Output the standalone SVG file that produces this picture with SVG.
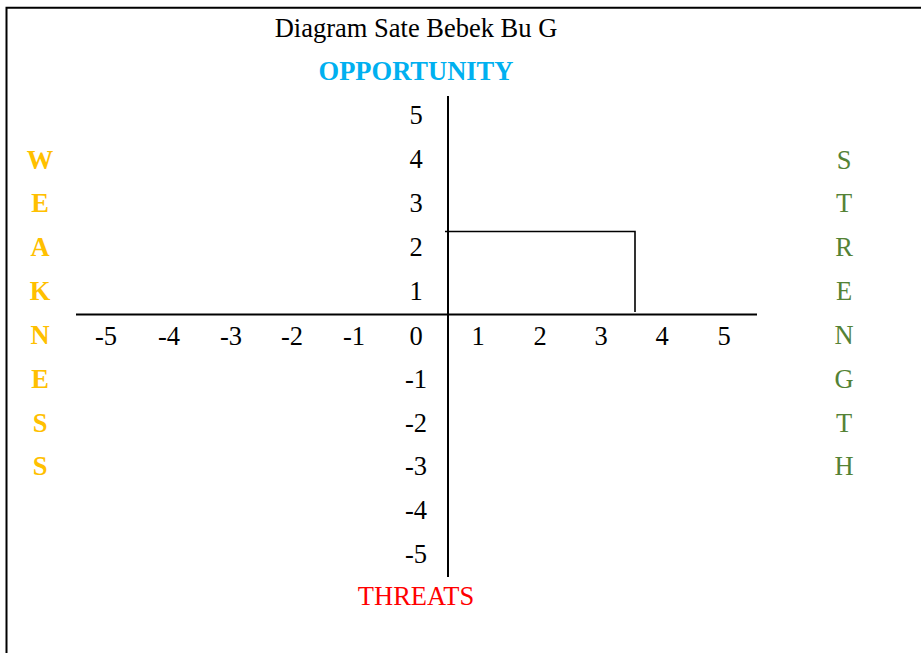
<svg xmlns="http://www.w3.org/2000/svg" width="921" height="653" viewBox="0 0 921 653">
<style>
text{font-family:"Liberation Serif","Times New Roman",Times,serif;font-size:26.5px;text-anchor:middle}
.num{fill:#000}
.w{fill:#FFC000;font-weight:bold}
.s{fill:#548235}
.axis{stroke:#000;stroke-width:2;fill:none}
.box{stroke:#000;stroke-width:1.6;fill:none}
</style>
<rect width="921" height="653" fill="#fff"/>
<g id="frame"><path d="M6.5,653 V7.7 H921" class="axis"/></g>
<g id="title"><text x="416" y="37">Diagram Sate Bebek Bu G</text></g>
<g id="opportunity"><text x="416" y="80" style="fill:#00B0F0;font-weight:bold">OPPORTUNITY</text></g>
<g id="threats"><text x="416" y="605" style="fill:#FF0000">THREATS</text></g>
<g id="connectors">
<line x1="448" y1="96" x2="448" y2="577" class="axis"/>
<line x1="76" y1="314.5" x2="757" y2="314.5" class="axis"/>
<path d="M445,231.5 H635 V312" class="box"/>
</g>
<g id="y-labels" class="num">
<text x="416" y="124">5</text>
<text x="416" y="168">4</text>
<text x="416" y="212">3</text>
<text x="416" y="256">2</text>
<text x="416" y="300">1</text>
<text x="416" y="388">-1</text>
<text x="416" y="432">-2</text>
<text x="416" y="475">-3</text>
<text x="416" y="519">-4</text>
<text x="416" y="563">-5</text>
</g>
<g id="x-labels" class="num">
<text x="106" y="345">-5</text>
<text x="169" y="345">-4</text>
<text x="231" y="345">-3</text>
<text x="292" y="345">-2</text>
<text x="354" y="345">-1</text>
<text x="416" y="345">0</text>
<text x="478" y="345">1</text>
<text x="540" y="345">2</text>
<text x="601" y="345">3</text>
<text x="662" y="345">4</text>
<text x="724" y="345">5</text>
</g>
<g id="weakness" class="w">
<text x="40" y="169">W</text>
<text x="40" y="212">E</text>
<text x="40" y="256">A</text>
<text x="40" y="300">K</text>
<text x="40" y="344">N</text>
<text x="40" y="388">E</text>
<text x="40" y="432">S</text>
<text x="40" y="475">S</text>
</g>
<g id="strength" class="s">
<text x="844" y="169">S</text>
<text x="844" y="212">T</text>
<text x="844" y="256">R</text>
<text x="844" y="300">E</text>
<text x="844" y="344">N</text>
<text x="844" y="388">G</text>
<text x="844" y="432">T</text>
<text x="844" y="475">H</text>
</g>
</svg>
